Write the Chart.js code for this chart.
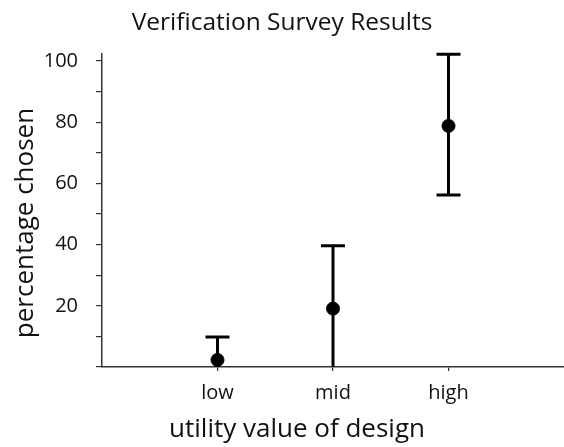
<!DOCTYPE html>
<html>
<head>
<meta charset="utf-8">
<script src="https://cdn.jsdelivr.net/npm/chart.js@4"></script>
<style>
  html, body { margin: 0; padding: 0; background: #fff; }
  #wrap { width: 564px; height: 447px; }
</style>
</head>
<body>
<div id="wrap"><canvas id="chart" width="564" height="447"></canvas></div>
<script>
// data
const categories = ['low', 'mid', 'high'];
const means = [2.3, 19.1, 78.8];
const errHigh = [9.8, 39.6, 102.2];
const errLow = [-5.2, -1.4, 56.2];
const yLabelTicks = [20, 40, 60, 80, 100];

const FONT = '"Open Sans", "DejaVu Sans", sans-serif';
const INK = '#111';
const AXIS = '#333';

// error bars drawn from the scales, under the dots
const errorBars = {
  id: 'errorBars',
  beforeDatasetsDraw(chart) {
    const { ctx, chartArea, scales: { x, y } } = chart;
    ctx.save();
    ctx.beginPath();
    ctx.rect(chartArea.left, chartArea.top - 10, chartArea.width, chartArea.height + 10);
    ctx.clip();
    ctx.strokeStyle = '#000';
    ctx.lineWidth = 3;
    categories.forEach((c, i) => {
      const px = x.getPixelForValue(i);
      const top = y.getPixelForValue(errHigh[i]);
      const bot = y.getPixelForValue(Math.max(errLow[i], 0));
      ctx.beginPath();
      ctx.moveTo(px, top);
      ctx.lineTo(px, bot);
      ctx.moveTo(px - 12, top);
      ctx.lineTo(px + 12, top);
      if (errLow[i] >= 0) {
        ctx.moveTo(px - 12, bot);
        ctx.lineTo(px + 12, bot);
      }
      ctx.stroke();
    });
    ctx.restore();
  }
};

// axis titles placed where the reference has them
const axisTitles = {
  id: 'axisTitles',
  afterDraw(chart) {
    const { ctx } = chart;
    ctx.save();
    ctx.fillStyle = INK;
    ctx.font = '26px ' + FONT;
    ctx.textAlign = 'center';
    ctx.textBaseline = 'alphabetic';
    ctx.fillText('utility value of design', 297, 437);
    ctx.translate(33, 223);
    ctx.rotate(-Math.PI / 2);
    ctx.fillText('percentage chosen', 0, 0);
    ctx.restore();
  }
};

new Chart(document.getElementById('chart'), {
  type: 'scatter',
  data: {
    datasets: [{
      data: means.map((m, i) => ({ x: i, y: m })),
      backgroundColor: '#000',
      borderColor: '#000',
      pointRadius: 6.5,
      pointHoverRadius: 6.5,
    }],
  },
  options: {
    responsive: false,
    animation: false,
    layout: { padding: 0, autoPadding: false },
    plugins: {
      legend: { display: false },
      tooltip: { enabled: false },
      title: {
        display: true,
        text: 'Verification Survey Results',
        color: INK,
        font: { family: FONT, size: 24.5, weight: 'normal' },
        padding: { top: 8, bottom: 16 },
      },
    },
    scales: {
      x: {
        type: 'linear',
        min: -1,
        max: 3,
        afterFit: s => { s.height = 80; s.paddingLeft = 0; s.paddingRight = 0; },
        border: { display: true, color: AXIS, width: 1.5 },
        grid: { drawOnChartArea: false, drawTicks: true, tickLength: 4, color: AXIS, lineWidth: 1.2 },
        ticks: {
          stepSize: 1,
          padding: 10,
          color: INK,
          font: { family: FONT, size: 20 },
          callback: v => (v >= 0 && v < categories.length ? categories[v] : null),
        },
      },
      y: {
        min: 0,
        max: 102.5,
        afterFit: s => { s.width = 102; },
        border: { display: true, color: AXIS, width: 1.5 },
        grid: { drawOnChartArea: false, drawTicks: true, tickLength: 6, color: AXIS, lineWidth: 1.2 },
        ticks: {
          stepSize: 10,
          includeBounds: false,
          padding: 18,
          color: INK,
          font: { family: FONT, size: 20 },
          callback: v => (yLabelTicks.includes(v) ? String(v) : ''),
        },
      },
    },
  },
  plugins: [errorBars, axisTitles],
});
</script>
</body>
</html>
